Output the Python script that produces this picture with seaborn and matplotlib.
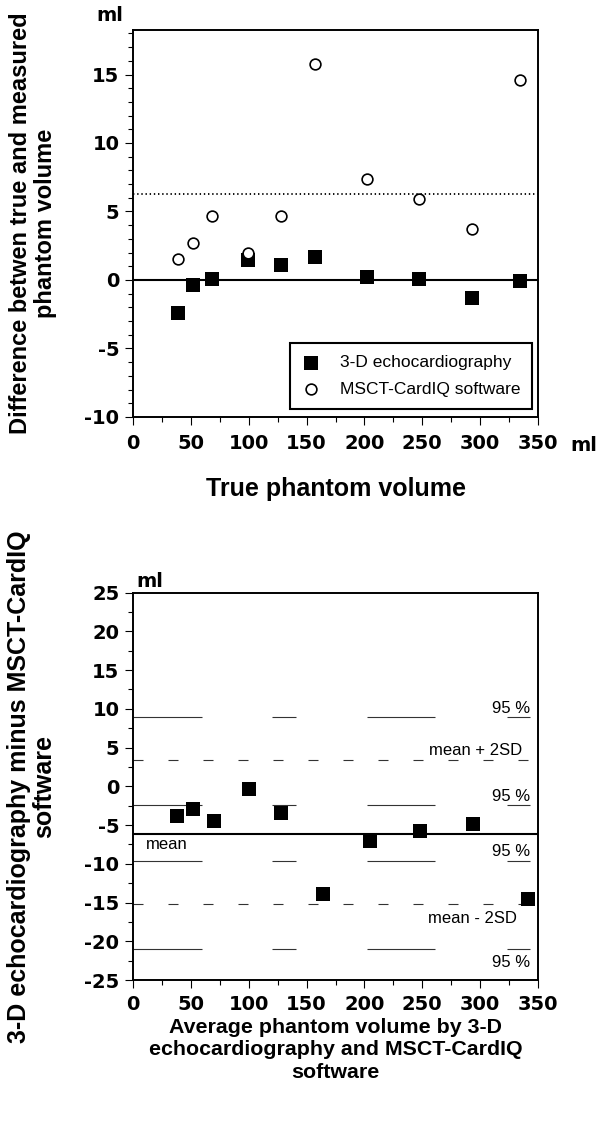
import matplotlib
matplotlib.use("Agg")
import matplotlib.pyplot as plt
from matplotlib.ticker import MultipleLocator
import seaborn as sns

# ── top panel: true minus measured phantom volume (ml) ──────────────────────
true_volume = [39, 52, 68, 99, 128, 157, 202, 247, 293, 334]
echo_diff   = [-2.4, -0.4, 0.05, 1.45, 1.1, 1.7, 0.2, 0.05, -1.35, -0.1]
msct_diff   = [1.5, 2.7, 4.7, 1.95, 4.7, 15.8, 7.35, 5.9, 3.7, 14.6]
msct_mean   = 6.3

# ── bottom panel: Bland-Altman, 3-D echo minus MSCT-CardIQ (ml) ─────────────
avg_volume = [38, 52, 70, 100, 128, 164, 205, 248, 294, 341]
ba_diff    = [-3.8, -2.9, -4.5, -0.35, -3.45, -13.85, -7.0, -5.8, -4.85, -14.5]
ba_mean    = -6.15
ba_upper   = 3.35     # mean + 2SD
ba_lower   = -15.15   # mean - 2SD
ci_levels  = [8.9, -2.45, -9.6, -21.0]
ci_spans   = [(0, 60), (120, 141), (202, 261), (323, 343)]

sns.set_style("ticks")
plt.rcParams["font.family"] = ["DejaVu Sans"]
plt.rcParams["font.weight"] = "bold"
plt.rcParams["axes.unicode_minus"] = False
plt.rcParams["lines.scale_dashes"] = False
for key in ("text.color", "axes.labelcolor", "xtick.color", "ytick.color",
            "axes.edgecolor"):
    plt.rcParams[key] = "black"

LAB = dict(fontfamily="Liberation Sans", fontweight="bold")
TXT = dict(fontfamily="Liberation Sans", fontweight="normal", fontsize=12)

fig = plt.figure(figsize=(6, 11.27), dpi=100)
ax1 = fig.add_axes([0.2217, 0.630, 0.675, 0.3434])
ax2 = fig.add_axes([0.2217, 0.1304, 0.675, 0.3438])

for ax in (ax1, ax2):
    for sp in ax.spines.values():
        sp.set_linewidth(1.4)
    ax.tick_params(which="major", length=5.8, width=0.8, direction="out",
                   labelsize=14, pad=4.0)
    ax.tick_params(axis="x", which="major", pad=6.5)
    ax.tick_params(which="minor", length=3.6, width=0.8, direction="out")
    ax.set_xlim(0, 350)
    ax.xaxis.set_major_locator(MultipleLocator(50))
    ax.xaxis.set_minor_locator(MultipleLocator(25))
ax2.tick_params(axis="x", which="major", pad=5.0)

# ── top panel ───────────────────────────────────────────────────────────────
ax1.axhline(0, color="black", lw=1.5, zorder=1)
ax1.axhline(msct_mean, color="black", lw=1.3, dashes=(1.0, 2.0), zorder=1)
sns.scatterplot(x=true_volume, y=echo_diff, marker="s", s=90, color="black",
                edgecolor="black", linewidth=0, label="3-D echocardiography",
                ax=ax1, zorder=3)
sns.scatterplot(x=true_volume, y=msct_diff, marker="o", s=60, color="white",
                edgecolor="black", linewidth=1.2, label="MSCT-CardIQ software",
                ax=ax1, zorder=3)
ax1.set_ylim(-10, 18.25)
ax1.yaxis.set_major_locator(MultipleLocator(5))
ax1.yaxis.set_minor_locator(MultipleLocator(1))

leg = ax1.legend(loc="lower left", bbox_to_anchor=(0.388, 0.021), borderaxespad=0,
                 frameon=True, fancybox=False, framealpha=1, edgecolor="black",
                 prop=dict(family="Liberation Sans", weight="normal", size=12.5),
                 handlelength=1.0, handletextpad=1.15, borderpad=0.7,
                 labelspacing=0.65)
leg.get_frame().set_linewidth(1.5)

ax1.set_xlabel("True phantom volume", fontsize=18, **LAB)
ax1.xaxis.set_label_coords(0.5, -0.155)
ax1.set_ylabel("Difference betwen true and measured\nphantom volume",
               fontsize=17, linespacing=1.08, **LAB)
ax1.yaxis.set_label_coords(-0.188, 0.5)
ax1.text(-0.091, 1.013, "ml", transform=ax1.transAxes, fontsize=14,
         ha="left", va="bottom")
ax1.text(1.08, -0.05, "ml", transform=ax1.transAxes, fontsize=14,
         ha="left", va="top")

# ── bottom panel ────────────────────────────────────────────────────────────
ax2.axhline(ba_mean, color="black", lw=1.5, zorder=1)
for lvl in (ba_upper, ba_lower):
    ax2.axhline(lvl, color="#333333", lw=0.8, dashes=(7.2, 18), zorder=1)
for lvl in ci_levels:
    for x0, x1 in ci_spans:
        ax2.hlines(lvl, x0, x1, color="#333333", lw=0.8, zorder=1)
sns.scatterplot(x=avg_volume, y=ba_diff, marker="s", s=90, color="black",
                edgecolor="black", linewidth=0, ax=ax2, zorder=3, legend=False)
ax2.set_ylim(-25, 25)
ax2.yaxis.set_major_locator(MultipleLocator(5))
ax2.yaxis.set_minor_locator(MultipleLocator(2.5))

for ytxt in (10.1, -1.3, -8.4, -22.8):
    ax2.text(343, ytxt, "95 %", ha="right", va="center", **TXT)
ax2.text(336, 4.65, "mean + 2SD", ha="right", va="center", **TXT)
ax2.text(332, -17.0, "mean - 2SD", ha="right", va="center", **TXT)
ax2.text(11, -7.5, "mean", ha="left", va="center", **TXT)

ax2.set_xlabel("Average phantom volume by 3-D\nechocardiography and MSCT-CardIQ\nsoftware",
               fontsize=15.4, linespacing=1.22, **LAB)
ax2.xaxis.set_label_coords(0.5, -0.098)
ax2.set_ylabel("3-D echocardiography minus MSCT-CardIQ\nsoftware",
               fontsize=18, linespacing=1.05, **LAB)
ax2.yaxis.set_label_coords(-0.19, 0.5)
ax2.text(0.008, 1.005, "ml", transform=ax2.transAxes, fontsize=14,
         ha="left", va="bottom")

fig.savefig("out.png", dpi=100)
